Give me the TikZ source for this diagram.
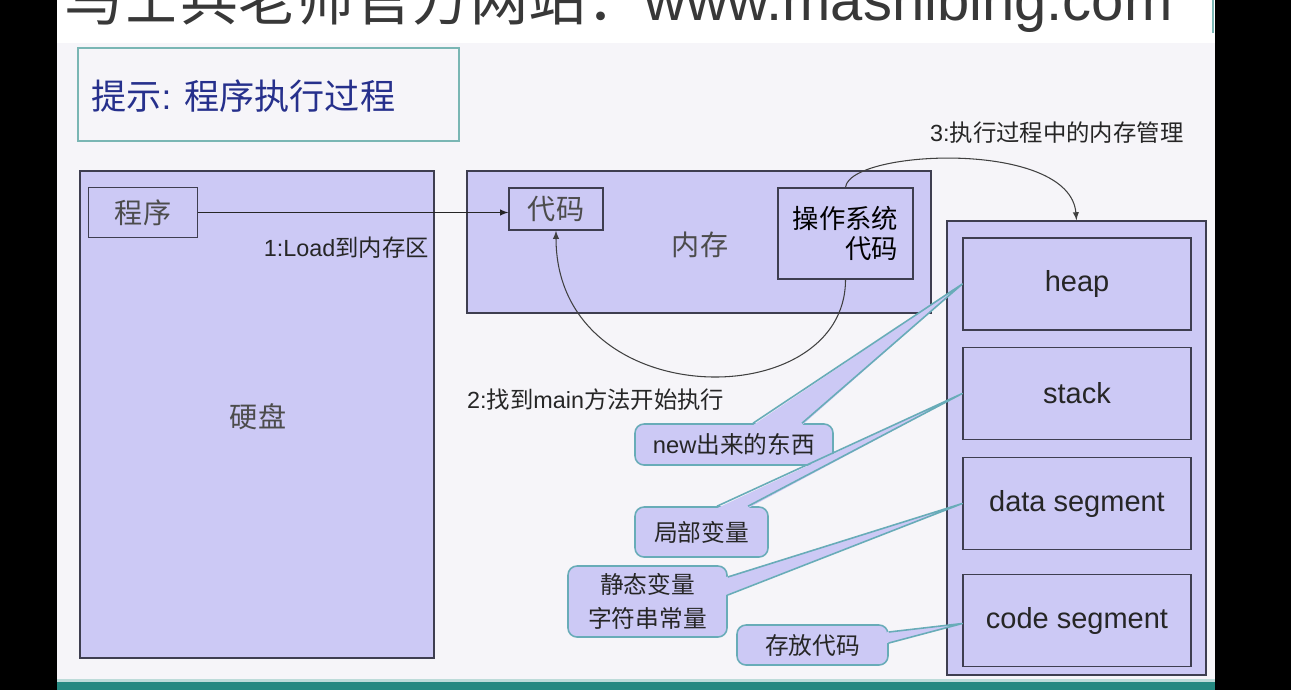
\documentclass[tikz,border=0pt]{standalone}
\usepackage{fontspec}
\setmainfont{Liberation Sans}
\newfontfamily\cjk{Noto Sans CJK SC}
\usetikzlibrary{arrows, calc}

\definecolor{lav}{RGB}{204,201,245}
\definecolor{slidebg}{RGB}{246,245,249}
\definecolor{edge}{RGB}{62,62,80}
\definecolor{callline}{RGB}{104,172,184}
\definecolor{titleline}{RGB}{122,182,180}
\definecolor{titleblue}{RGB}{38,48,140}
\definecolor{strip}{RGB}{36,136,128}
\newcommand{\pxl}{0.02cm}

\tikzset{
box/.style={draw=edge, fill=lav, line width=0.8pt, inner sep=0pt},
cnlabel/.style={font=\cjk\fontsize{16}{19}\selectfont, text=black!70},
seg/.style={box, minimum width=228*\pxl, minimum height=92*\pxl, font=\fontsize{16.5}{20}\selectfont, text=black!85},
bubble/.style={draw=callline, fill=lav, line width=0.9pt, rounded corners=0.18cm, inner sep=0pt, font=\cjk\fontsize{13.5}{19}\selectfont, align=center, text=black!85},
ptrfill/.style={fill=lav},
ptredge/.style={draw=callline, line width=0.9pt, line join=round},
note/.style={font=\fontsize{13.3}{16}\selectfont, text=black!85},
curve/.style={->, black!75, line width=0.6pt}
}

\begin{document}
\begin{tikzpicture}[>=latex, x=0.02cm, y=-0.02cm]

%\draw[step=50, gray!40] (0,0) grid (1291,690);
\useasboundingbox (0,0) rectangle (1291,690);

% screen
\fill[black] (0,0) rectangle (1291,690);
\fill[white] (57,0) rectangle (1215,43);
\fill[slidebg] (57,43) rectangle (1215,680);
\fill[strip!30] (57,679) rectangle (1215,682);
\fill[strip] (57,682) rectangle (1215,690);
\draw[titleline, line width=1pt] (1213,0) -- (1213,33);

\begin{scope}
\clip (57,0) rectangle (1215,43);
\node[anchor=base west, inner sep=0pt, text=black!78, font=\fontsize{33}{36}\selectfont] (mark) at (64,20)
{{\cjk 马士兵老师官方网站：}www.mashibing.com};
\end{scope}

% title
\node[draw=titleline, line width=1pt, minimum width=381*\pxl, minimum height=93*\pxl] (titlebox) at (268.5,94.5) {};
\node[anchor=west, inner sep=0pt, text=titleblue, font=\fontsize{20}{24}\selectfont] (title) at (91,96)
{{\cjk 提示}: {\cjk 程序执行过程}};

% disk and ram
\node[box, cnlabel, minimum width=354*\pxl, minimum height=487*\pxl] (disk) at (257,414.5) {};
\node[cnlabel] (disklbl) at (258,417) {硬盘};
\node[box, cnlabel, minimum width=109*\pxl, minimum height=50*\pxl] (prog) at (143,212.5) {程序};

\node[box, minimum width=464*\pxl, minimum height=142*\pxl] (ram) at (699,242) {};
\node[cnlabel] (ramlbl) at (700,245) {内存};
\node[box, cnlabel, minimum width=94*\pxl, minimum height=42*\pxl] (code) at (556,209) {代码};
\node[box, minimum width=135*\pxl, minimum height=91*\pxl, align=right, text=black,
font=\cjk\fontsize{15}{17}\selectfont] (osbox) at (845.5,233.5) {操作系统\\代码};

% memory of a process
\node[box, minimum width=259*\pxl, minimum height=454*\pxl] (mem) at (1076.5,448) {};
\node[seg] (heap) at (1077,284) {heap};
\node[seg] (stack) at (1077,393.5) {stack};
\node[seg] (dataseg) at (1077,503.5) {data segment};
\node[seg] (codeseg) at (1077,620.5) {code segment};

% steps
\draw[->, black!85, line width=0.6pt] (prog.east) -- (prog.east -| code.west);
\node[note, anchor=east] (load) at (435,248) {1:Load{\cjk 到内存区}};

\draw[curve] (osbox.south) .. controls +(0,136) and +(0,185) .. (code.south);
\node[note, anchor=west] (findmain) at (461,400) {2:{\cjk 找到}main{\cjk 方法开始执行}};

\draw[curve] (osbox.north) .. controls +(4.5,-38) and +(-6.5,-81) .. (mem.north);
\node[note, anchor=west] (mmgmt) at (924,133) {3:{\cjk 执行过程中的内存管理}};

%%%%%%
\node[bubble, minimum width=198*\pxl, minimum height=41*\pxl] (newobj) at (734,444.5) {{\fontspec{Liberation Sans}new}出来的东西};
\fill[ptrfill] ($(newobj.north)+(19,2)$) -- (heap.west) -- ($(newobj.north)+(68,2)$) -- cycle;
\draw[ptredge] ($(newobj.north)+(19,0)$) -- (heap.west) -- ($(newobj.north)+(68,0)$);

\node[bubble, minimum width=133*\pxl, minimum height=50*\pxl] (local) at (701.5,532) {局部变量};
\fill[ptrfill] ($(local.north)+(15.5,2)$) -- (stack.west) -- ($(local.north)+(46.5,2)$) -- cycle;
\draw[ptredge] ($(local.north)+(15.5,0)$) -- (stack.west) -- ($(local.north)+(46.5,0)$);

\node[bubble, minimum width=159*\pxl, minimum height=71*\pxl] (static) at (647.5,601.5) {静态变量\\字符串常量};
\fill[ptrfill] ($(static.east)+(-2,-24.5)$) -- (dataseg.west) -- ($(static.east)+(-2,-6.5)$) -- cycle;
\draw[ptredge] ($(static.east)+(0,-24.5)$) -- (dataseg.west) -- ($(static.east)+(0,-6.5)$);

\node[bubble, minimum width=151*\pxl, minimum height=40*\pxl] (store) at (812.5,645) {存放代码};
\fill[ptrfill] ($(store.east)+(-2,-13)$) -- ($(codeseg.west)+(0,3)$) -- ($(store.east)+(-2,-2)$) -- cycle;
\draw[ptredge] ($(store.east)+(0,-13)$) -- ($(codeseg.west)+(0,3)$) -- ($(store.east)+(0,-2)$);

\end{tikzpicture}
\end{document}
